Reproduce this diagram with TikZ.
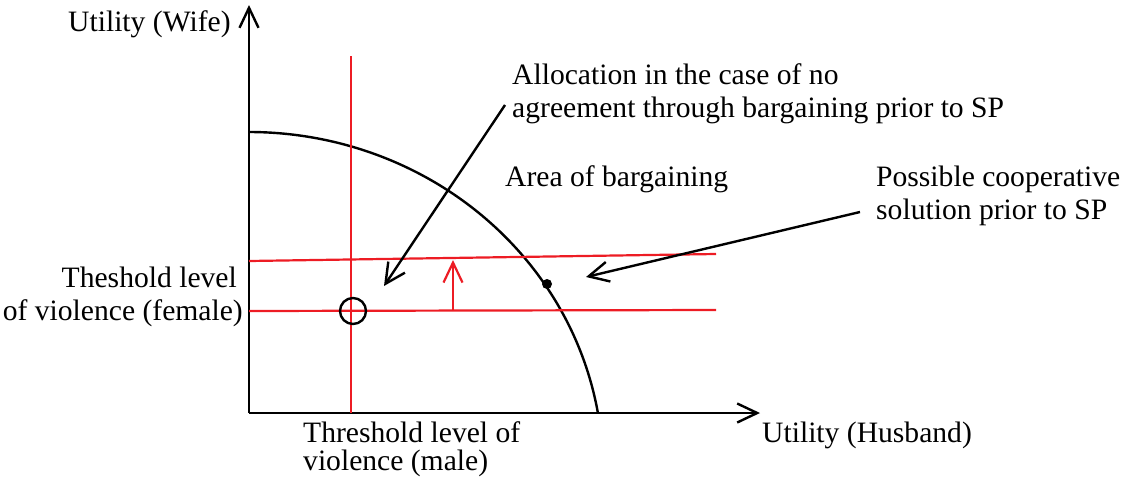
\documentclass[tikz,border=0pt]{standalone}
\usepackage{fontspec}
\setmainfont{Liberation Serif}
\usetikzlibrary{arrows.meta}
\definecolor{redline}{RGB}{237,28,36}
\begin{document}
\begin{tikzpicture}[x=1pt,y=-1pt,
  lbl/.style={inner sep=0pt,font=\fontsize{29.6}{33}\selectfont},
  axis/.style={line width=2.4pt,-{Straight Barb[length=20pt,width=19pt,line width=2.4pt]}},
  pointer/.style={line width=2.4pt,-{Straight Barb[length=20pt,width=20pt,line width=2.4pt]}},
  rline/.style={redline,line width=2.2pt},
  rarrow/.style={redline,line width=2.2pt,-{Straight Barb[length=20pt,width=19pt,line width=2.2pt]}}]
\useasboundingbox (0,0) rectangle (1121,477);
% axes
\coordinate (O) at (249,413);
\coordinate (ytip) at (249,5);
\coordinate (xtip) at (760,413);
\draw[axis] (O) -- (ytip);
\draw[axis] (O) -- (xtip);
% frontier
\draw[line width=2.4pt] plot[domain=90:9.7,samples=80,smooth] ({249+354*cos(\x)},{470-338*sin(\x)});
% red lines
\coordinate (vtop) at (351,56);
\coordinate (vbot) at (351,413);
\draw[rline] (vtop) -- (vbot);
\coordinate (uL) at (249,261);
\coordinate (uR) at (716,254);
\draw[rline] (uL) -- (uR);
\coordinate (lL) at (249,311);
\coordinate (lR) at (716,310);
\draw[rline] (lL) -- (lR);
\coordinate (ra) at (453,311);
\coordinate (rb) at (453,260);
\draw[rarrow] (ra) -- (rb);
% points
\node[circle,draw,line width=2.4pt,minimum size=26pt,inner sep=0pt] (disagree) at (353,311) {};
\node[circle,fill,minimum size=10pt,inner sep=0pt] (coop) at (547,284) {};
% labels
\node[lbl,anchor=base west] (wife) at (68,31) {Utility (Wife)};
\node[lbl,anchor=base west] (husband) at (762,442) {Utility (Husband)};
\node[lbl,anchor=base west] (alloc1) at (512,84) {Allocation in the case of no};
\node[lbl,anchor=base west] (alloc2) at (512,117) {agreement through bargaining prior to SP};
\node[lbl,anchor=base west] (area) at (505,186) {Area of bargaining};
\node[lbl,anchor=base west] (poss1) at (876,186) {Possible cooperative};
\node[lbl,anchor=base west] (poss2) at (876,219) {solution prior to SP};
\node[lbl,anchor=base east] (fem1) at (237,287) {Theshold level};
\node[lbl,anchor=base east] (fem2) at (243,320) {of violence (female)};
\node[lbl,anchor=base west] (male1) at (303,442) {Threshold level of};
\node[lbl,anchor=base west] (male2) at (303,470) {violence (male)};
% pointers
\coordinate (p1s) at (505,105);
\coordinate (p1e) at (384,286);
\draw[pointer] (p1s) -- (p1e);
\coordinate (p2s) at (860,212);
\coordinate (p2e) at (586,277);
\draw[pointer] (p2s) -- (p2e);
\end{tikzpicture}
\end{document}
